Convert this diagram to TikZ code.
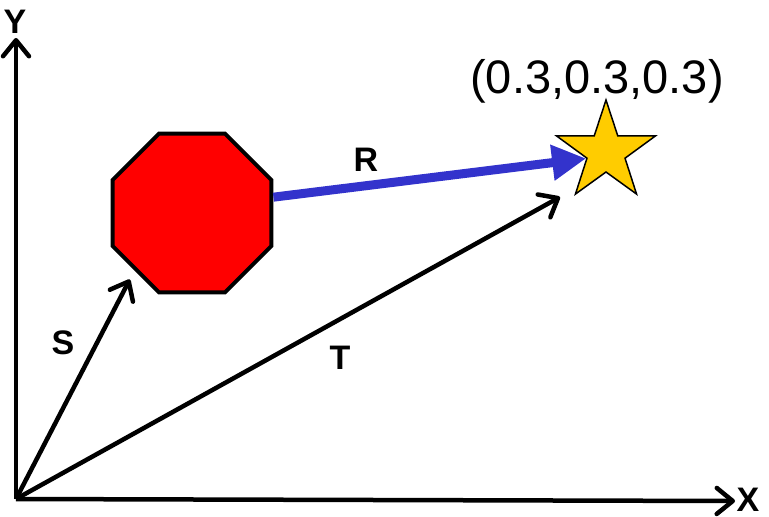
\documentclass[tikz,border=0pt]{standalone}
\usepackage{fontspec}
\setmainfont{Liberation Sans}
\usetikzlibrary{arrows.meta,shapes.geometric,calc}
\definecolor{octred}{RGB}{255,0,0}
\definecolor{stargold}{RGB}{255,204,0}
\definecolor{rblue}{RGB}{51,51,204}
\begin{document}
\begin{tikzpicture}[x=1pt,y=-1pt,
  axisarrow/.style={line width=4.5pt,-{Straight Barb[length=16pt,width=26pt,line cap=round,line join=round]}},
  vecarrow/.style={line width=4.5pt,-{Straight Barb[length=16pt,width=26pt,line cap=round,line join=round]}},
  bluearrow/.style={line width=9pt,rblue,-{Triangle[length=34pt,width=34pt]}},
  lbl/.style={font=\fontsize{34}{38}\bfseries\selectfont,inner sep=0pt},
  coordlbl/.style={font=\fontsize{47}{50}\selectfont,inner sep=0pt},
  octa/.style={regular polygon,regular polygon sides=8,minimum size=172pt,inner sep=0pt,draw=black,line width=4pt,fill=octred},
  starshape/.style={star,star points=5,star point ratio=2.6,minimum size=104pt,inner sep=0pt,draw=black,line width=1.5pt,fill=stargold}]
\useasboundingbox (0,0) rectangle (769,517);
\coordinate (O) at (16,499);
\coordinate (Xend) at (735,501);
\coordinate (Yend) at (16,38);
\coordinate (Ttip) at (560,197);
\node[octa] (oct) at (192,213) {};
\node[starshape] (st) at (606,152) {};
\draw[axisarrow] (O) -- (Xend);
\draw[axisarrow] (O) -- (Yend);
\draw[vecarrow,shorten >=10pt] (O) -- (oct.225);
\draw[vecarrow] (O) -- (Ttip);
\draw[bluearrow] (oct.11) -- (st.198);
\node[lbl] (lx) at (748,500) {X};
\node[lbl] (ly) at (15,22) {Y};
\node[lbl] (lr) at (366,160) {R};
\node[lbl] (ls) at (63,343) {S};
\node[lbl] (lt) at (340,358) {T};
\node[coordlbl] (lc) at (597,81) {(0.3,0.3,0.3)};
\end{tikzpicture}
\end{document}
